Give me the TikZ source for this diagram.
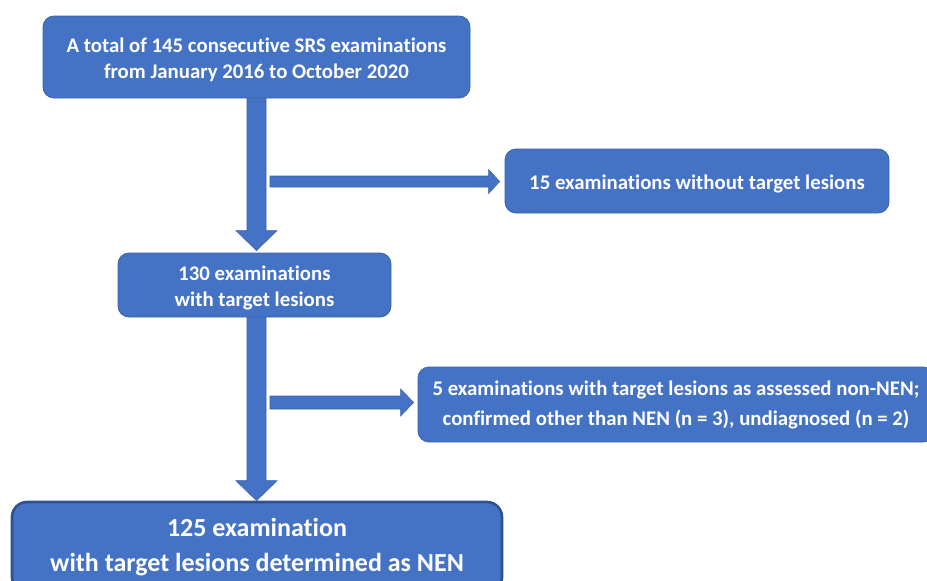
\documentclass[tikz,border=0pt]{standalone}
\usepackage{fontspec}
\setmainfont[Ligatures=NoCommon]{Carlito}
\usetikzlibrary{calc}
\definecolor{boxfill}{HTML}{4472C4}
\definecolor{boxedge}{HTML}{3A62A8}
\definecolor{boxedgedark}{HTML}{2F528F}
\tikzset{
  flowbox/.style={draw=boxedge, line width=0.8pt, fill=boxfill, rounded corners=11pt,
    text=white, font=\bfseries\fontsize{20.8}{26}\selectfont, align=center, inner sep=0pt},
  finalbox/.style={draw=boxedgedark, line width=2.6pt, fill=boxfill, rounded corners=15pt,
    text=white, font=\bfseries\fontsize{26}{35}\selectfont, align=center, inner sep=0pt},
  blockarrow/.style={draw=boxedge, line width=0.6pt, fill=boxfill}
}
\begin{document}
\begin{tikzpicture}[x=1pt,y=-1pt]
\useasboundingbox (0,0) rectangle (927,581);
\clip (0,0) rectangle (927,581);
\node[flowbox, minimum width=427pt, minimum height=82pt, text height=47pt] (b1) at (256.5,57)
  {A total of 145 consecutive SRS examinations\\from January 2016 to October 2020};
\node[flowbox, minimum width=384pt, minimum height=64pt, text height=21pt] (b15) at (697,181)
  {15 examinations without target lesions};
\node[flowbox, minimum width=273pt, minimum height=64pt, text height=46.5pt] (b130) at (254.5,285)
  {130 examinations\\with target lesions};
\node[flowbox, minimum width=516pt, minimum height=75pt, font=\bfseries\fontsize{20.8}{30}\selectfont] (b5) at (676,404.5)
  {5 examinations with target lesions as assessed non-NEN;\\confirmed other than NEN (n = 3), undiagnosed (n = 2)};
\node[finalbox, minimum width=490pt, minimum height=90pt] (bf) at (257,547)
  {125 examination\\with target lesions determined as NEN};
% vertical block arrows
\coordinate (v1s) at (b1.south);
\coordinate (v1e) at ($(b1.south |- b130.north)+(0,-2)$);
\coordinate (v2s) at (b1.south |- b130.south);
\coordinate (v2e) at (b1.south |- bf.north);
\foreach \s/\e in {v1s/v1e, v2s/v2e}{
  \draw[blockarrow] let \p1=(\s), \p2=(\e) in
    (\x1-9.5pt,\y1) -- (\x1-9.5pt,\y2+20pt) -- (\x1-20.5pt,\y2+20pt) -- (\x1,\y2)
    -- (\x1+20.5pt,\y2+20pt) -- (\x1+9.5pt,\y2+20pt) -- (\x1+9.5pt,\y1) -- cycle;
}
% horizontal block arrows
\coordinate (h1s) at (270,181.5);
\coordinate (h1e) at ($(h1s -| b15.west)+(-5,0)$);
\draw[blockarrow] let \p1=(h1s), \p2=(h1e) in
  (\x1,\y1+5.5pt) -- (\x2-11pt,\y1+5.5pt) -- (\x2-11pt,\y1+12pt) -- (\x2,\y1)
  -- (\x2-11pt,\y1-12pt) -- (\x2-11pt,\y1-5.5pt) -- (\x1,\y1-5.5pt) -- cycle;
\coordinate (h2s) at (270,402.5);
\coordinate (h2e) at ($(h2s -| b5.west)+(-4,0)$);
\draw[blockarrow] let \p1=(h2s), \p2=(h2e) in
  (\x1,\y1+6.5pt) -- (\x2-13pt,\y1+6.5pt) -- (\x2-13pt,\y1+13.5pt) -- (\x2,\y1)
  -- (\x2-13pt,\y1-13.5pt) -- (\x2-13pt,\y1-6.5pt) -- (\x1,\y1-6.5pt) -- cycle;
\end{tikzpicture}
\end{document}
